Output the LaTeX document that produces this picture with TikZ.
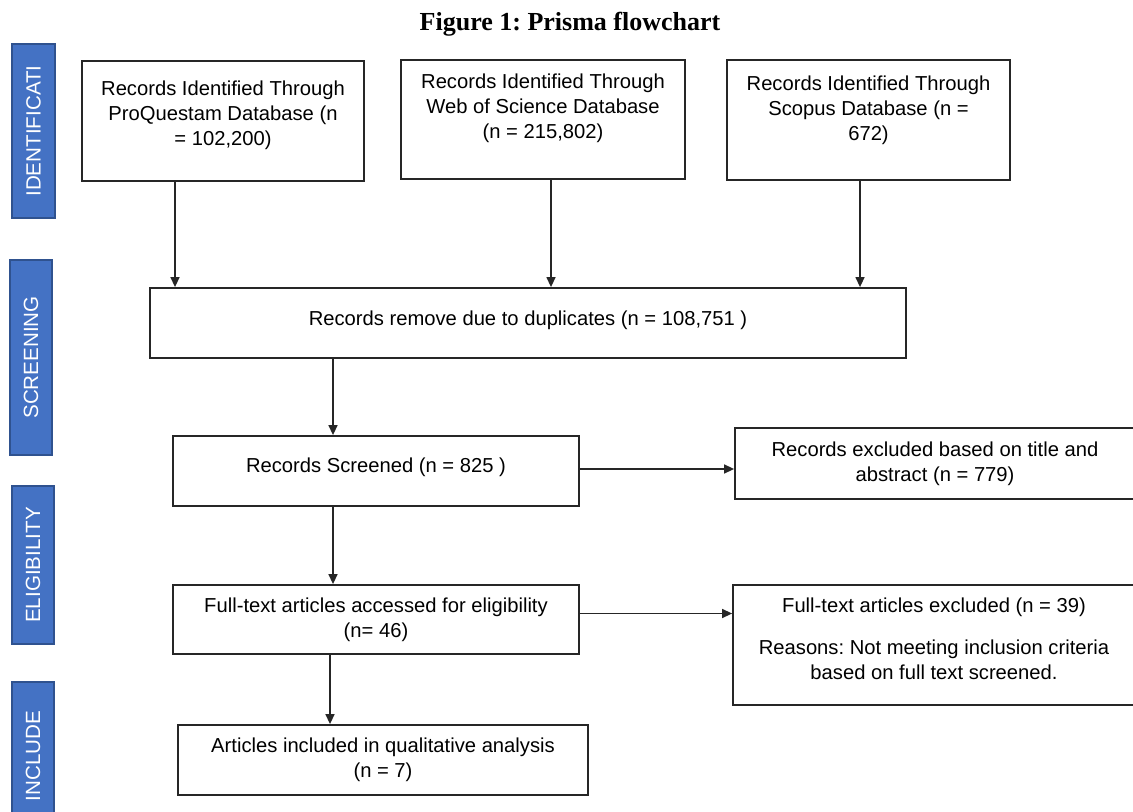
\documentclass[tikz,border=0pt]{standalone}
\usepackage{fontspec}
\setmainfont{Liberation Sans}
\newfontfamily\titlefont{Liberation Serif}
\usetikzlibrary{arrows.meta}
\definecolor{barfill}{HTML}{4472C4}
\definecolor{barline}{HTML}{2F528F}
\frenchspacing
\begin{document}
\begin{tikzpicture}[x=0.5pt,y=-0.5pt,
    box/.style={draw=black!85,line width=0.9pt,align=center,inner sep=0pt,
      font=\fontsize{10.1}{12.5}\selectfont},
    bar/.style={draw=barline,line width=0.9pt,fill=barfill,text=white,rotate=90,
      inner sep=0pt,font=\fontsize{10.3}{12.5}\selectfont},
    arr/.style={-{Triangle[length=5pt,width=4.5pt]},line width=0.7pt,black!85}]
  \useasboundingbox (0,0) rectangle (1133,812);
  \clip (0,0) rectangle (1133,812);
  \node[font=\titlefont\bfseries\fontsize{13}{15}\selectfont] (title) at (570,24) {Figure 1: Prisma flowchart};
  % phases
  \node[bar,minimum width=87pt,minimum height=21.5pt] (identif) at (33.5,131) {IDENTIFICATI};
  \node[bar,minimum width=97.5pt,minimum height=21pt] (screen) at (31,357.5) {SCREENING};
  \node[bar,minimum width=79pt,minimum height=21pt] (elig) at (33,565) {ELIGIBILITY};
  \node[bar,minimum width=74pt,minimum height=21pt] (incbar) at (33,756) {INCLUDE};
  % boxes
  \node[box,minimum width=141pt,minimum height=60pt,text depth=8.2pt] (proq) at (223,121)
    {Records Identified Through\\ProQuestam Database (n\\= 102,200)};
  \node[box,minimum width=142pt,minimum height=59.5pt,text depth=13.2pt] (wos) at (543,119.5)
    {Records Identified Through\\Web of Science Database\\(n = 215,802)};
  \node[box,minimum width=141.5pt,minimum height=60pt,text depth=12.2pt] (scop) at (868.5,120)
    {Records Identified Through\\Scopus Database (n =\\672)};
  \node[box,minimum width=378pt,minimum height=35pt,text depth=5.2pt] (dup) at (528,323)
    {Records remove due to duplicates (n = 108,751 )};
  \node[box,minimum width=203pt,minimum height=35pt,text depth=6.2pt] (screened) at (376,471)
    {Records Screened (n = 825 )};
  \node[box,minimum width=200pt,minimum height=35.5pt] (excl1) at (935,463.5)
    {Records excluded based on title and\\abstract (n = 779)};
  \node[box,minimum width=203pt,minimum height=34.5pt] (fulltext) at (376,619.5)
    {Full-text articles accessed for eligibility\\(n= 46)};
  \node[box,minimum width=201pt,minimum height=60pt,text depth=6.2pt] (excl2) at (934,645)
    {Full-text articles excluded (n = 39)\\[8.5pt]Reasons: Not meeting inclusion criteria\\based on full text screened.};
  \node[box,minimum width=205pt,minimum height=35pt] (incl) at (383,760)
    {Articles included in qualitative analysis\\(n = 7)};
  % arrows
  \begin{scope}[arr]
    \draw ([xshift=-24pt]proq.south) -- ([xshift=-24pt]proq.south |- dup.north);
    \draw ([xshift=4pt]wos.south) -- ([xshift=4pt]wos.south |- dup.north);
    \draw ([xshift=-4.25pt]scop.south) -- ([xshift=-4.25pt]scop.south |- dup.north);
    \draw ([xshift=-21.5pt]screened.north |- dup.south) -- ([xshift=-21.5pt]screened.north);
    \draw ([yshift=1pt]screened.east) -- ([yshift=1pt]screened.east -| excl1.west);
    \draw ([xshift=-21.5pt]screened.south) -- ([xshift=-21.5pt]fulltext.north);
    \draw ([yshift=3pt]fulltext.east) -- ([yshift=3pt]fulltext.east -| excl2.west);
    \draw ([xshift=-23pt]fulltext.south) -- ([xshift=-23pt]fulltext.south |- incl.north);
  \end{scope}
\end{tikzpicture}
\end{document}
